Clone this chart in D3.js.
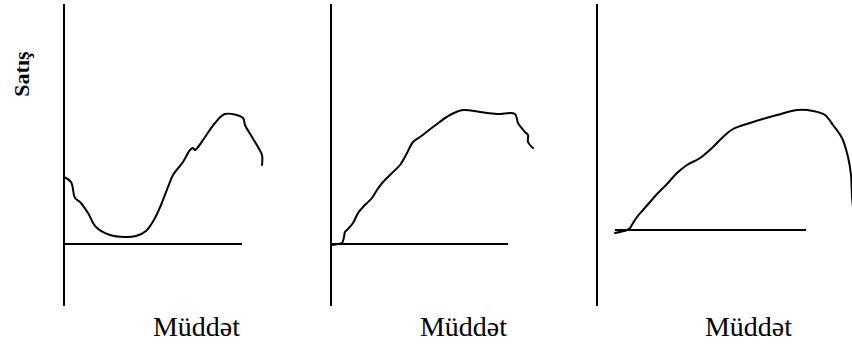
<!DOCTYPE html>
<html>
<head>
<meta charset="utf-8">
<script src="https://cdn.jsdelivr.net/npm/d3@7"></script>
<style>
  body { margin: 0; background: #fff; }
  svg { display: block; }
</style>
</head>
<body>
<div id="chart"></div>
<script>
// Product life cycle sketches: [time, sales] pairs, sales measured from baseline
var yLabel = 'Satış';
var xLabel = 'Müddət';

var curveA = [[0,67],[7,62],[11,46],[16,42],[24,31],[32,17],[46,9],[61,7],[72,8],[82,13],
  [91,26],[97,39],[104,57],[109,69],[119,82],[126,94],[129,96],[131,94],[139,104],[151,121],
  [161,130],[179,126],[181,119],[188,107],[194,97],[198,89],[198,79]];

var curveB = [[0,-1],[7,0],[11,1],[13,7],[14,12],[17,15],[22,21],[27,31],[32,37],[41,46],
  [46,54],[52,62],[61,71],[69,79],[76,91],[82,102],[89,107],[102,117],[119,129],[132,134],
  [149,132],[166,130],[184,130],[187,121],[194,112],[197,109],[197,102],[202,96]];

var curveC = [[18,-3],[30,0],[33,2],[36,7],[40,13],[46,20],[53,28],[61,37],[70,46],[80,57],
  [90,65],[103,72],[116,83],[126,93],[136,101],[156,108],[180,115],[201,120],[216,119],
  [228,115],[236,105],[245,92],[251,73],[254,55],[255,34],[256,22]];

// Time extent of each baseline
var baseA = [0, 178];
var baseB = [0, 177];
var baseC = [18, 209];

var width = 852, height = 347;
var serif = '"Liberation Serif", "DejaVu Serif", serif';

// Panel placement
var panels = [
  { data: curveA, base: baseA, left: 64,  zeroY: 244, textX: 89 },
  { data: curveB, base: baseB, left: 331, zeroY: 244, textX: 89 },
  { data: curveC, base: baseC, left: 597, zeroY: 230, textX: 108 }
];

var svg = d3.select('#chart')
    .append('svg')
    .attr('width', width)
    .attr('height', height);

panels.forEach(function(p) {
    // Scales: one unit per pixel, origin at axis / baseline
    var x = d3.scaleLinear().domain([0, 260]).range([p.left, p.left + 260]);
    var y = d3.scaleLinear().domain([0, 240]).range([p.zeroY, p.zeroY - 240]);

    var g = svg.append('g');

    // Vertical axis (Satış)
    g.append('line')
        .attr('x1', x(0)).attr('x2', x(0))
        .attr('y1', 4).attr('y2', 306)
        .attr('stroke', '#000').attr('stroke-width', 2);

    // Horizontal baseline
    g.append('line')
        .attr('x1', x(p.base[0])).attr('x2', x(p.base[1]))
        .attr('y1', y(0)).attr('y2', y(0))
        .attr('stroke', '#000').attr('stroke-width', 2);

    var line = d3.line()
        .x(function(d) { return x(d[0]); })
        .y(function(d) { return y(d[1]); })
        .curve(d3.curveCatmullRom.alpha(0.5));

    g.append('path')
        .datum(p.data)
        .attr('d', line)
        .attr('fill', 'none')
        .attr('stroke', '#000')
        .attr('stroke-width', 2)
        .attr('stroke-linejoin', 'round')
        .attr('stroke-linecap', 'round');

    // Time label under each panel
    g.append('text')
        .attr('x', x(p.textX))
        .attr('y', 336)
        .style('font-family', serif)
        .style('font-size', '27px')
        .attr('textLength', 87)
        .attr('lengthAdjust', 'spacingAndGlyphs')
        .attr('fill', '#000')
        .text(xLabel);
});

// Sales label, rotated
svg.append('text')
    .attr('transform', 'translate(29,74) rotate(-90)')
    .attr('text-anchor', 'middle')
    .style('font-family', serif)
    .style('font-size', '22px')
    .style('font-weight', 'bold')
    .attr('fill', '#000')
    .text(yLabel);
</script>
</body>
</html>
